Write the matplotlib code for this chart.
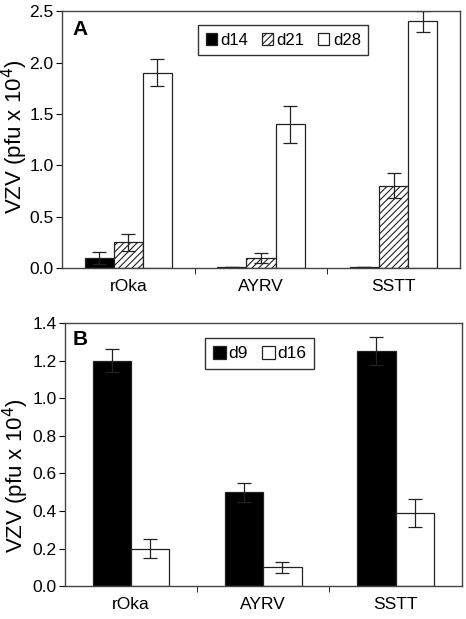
import matplotlib.pyplot as plt
import numpy as np

plt.rcParams['font.family'] = ['Liberation Sans', 'DejaVu Sans']
plt.rcParams['hatch.linewidth'] = 0.8

virus = ['rOka', 'AYRV', 'SSTT']

# painel A
dias_a = ['d14', 'd21', 'd28']
valores_a = [[0.10, 0.01, 0.01], [0.25, 0.10, 0.80], [1.90, 1.40, 2.40]]
erros_a = [[0.06, 0.0, 0.0], [0.08, 0.05, 0.12], [0.13, 0.18, 0.10]]

# painel B
dias_b = ['d9', 'd16']
valores_b = [[1.20, 0.50, 1.25], [0.20, 0.10, 0.39]]
erros_b = [[0.06, 0.05, 0.075], [0.05, 0.03, 0.075]]

fig = plt.figure(figsize=(4.66, 6.19), dpi=100)
axA = fig.add_axes([0.133, 0.567, 0.854, 0.415])
axB = fig.add_axes([0.139, 0.053, 0.852, 0.425])

x = np.arange(len(virus))

def estilo(ax, ymax, passo, letra, pos_letra, pos_label):
    ax.set_xlim(-0.5, 2.5)
    ax.set_ylim(0, ymax)
    ticks = np.arange(0, ymax + 1e-9, passo)
    ax.set_yticks(ticks)
    ax.set_yticklabels(['%.1f' % v for v in ticks], fontsize=12.5)
    ax.set_xticks(x)
    ax.set_xticklabels(virus, fontsize=12.5)
    ax.tick_params(axis='x', length=0, pad=8)
    ax.set_xticks([0.5, 1.5], minor=True)
    ax.tick_params(axis='x', which='minor', length=4, direction='out')
    ax.tick_params(axis='y', length=4, direction='out', pad=2)
    ax.set_ylabel('VZV (pfu x 10$^4$)', fontsize=16)
    ax.yaxis.set_label_coords(pos_label[0], pos_label[1])
    for s in ax.spines.values():
        s.set_color('#444444')
        s.set_linewidth(1.0)
    ax.text(pos_letra[0], pos_letra[1], letra, transform=ax.transAxes, fontsize=15,
            fontweight='bold', va='top', ha='left')

larg_a = 0.22
estilos_a = [dict(color='black'), dict(color='white', hatch='/////'), dict(color='white')]
for i, d in enumerate(dias_a):
    pos = x + (i - 1) * larg_a
    axA.bar(pos, valores_a[i], larg_a, edgecolor='#222222', linewidth=0.9,
            label=d, **estilos_a[i])
    axA.errorbar(pos, valores_a[i], yerr=erros_a[i], fmt='none', ecolor='#222222',
                 elinewidth=0.9, capsize=4.7, capthick=0.9)
estilo(axA, 2.5, 0.5, 'A', (0.026, 0.965), (-0.08, 0.51))
axA.legend(loc='upper left', bbox_to_anchor=(0.342, 0.945), ncol=3, fontsize=12,
           frameon=True, fancybox=False, edgecolor='black', handlelength=0.66,
           handleheight=0.66, handletextpad=0.2, columnspacing=0.85, borderpad=0.45,
           borderaxespad=0)

larg_b = 0.29
cores_b = ['black', 'white']
for i, d in enumerate(dias_b):
    pos = x + (i - 0.5) * larg_b
    axB.bar(pos, valores_b[i], larg_b, color=cores_b[i], edgecolor='#222222',
            linewidth=0.9, label=d)
    axB.errorbar(pos, valores_b[i], yerr=erros_b[i], fmt='none', ecolor='#222222',
                 elinewidth=0.9, capsize=5, capthick=0.9)
estilo(axB, 1.4, 0.2, 'B', (0.02, 0.972), (-0.084, 0.42))
axB.legend(loc='upper left', bbox_to_anchor=(0.353, 0.943), ncol=2, fontsize=12.5,
           frameon=True, fancybox=False, edgecolor='black', handlelength=0.75,
           handleheight=0.75, handletextpad=0.15, columnspacing=0.8, borderpad=0.45,
           borderaxespad=0)

fig.savefig('out.png', dpi=100)
